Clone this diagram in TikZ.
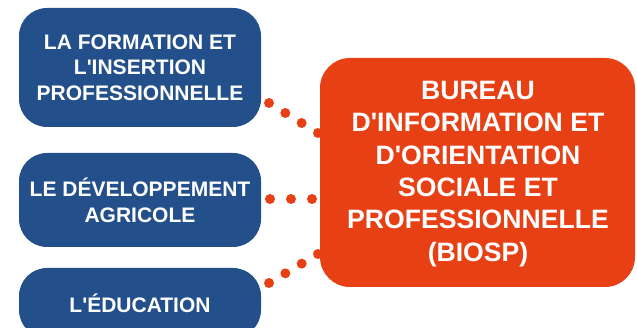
\documentclass[tikz,border=0pt]{standalone}
\usepackage{fontspec}
\setmainfont{Liberation Sans}[Ligatures=TeXOff]
\usetikzlibrary{calc}
\definecolor{boxblue}{RGB}{35,79,138}
\definecolor{boxorange}{RGB}{231,64,20}
\begin{document}
\begin{tikzpicture}[x=1pt,y=-1pt,
  bluebox/.style={fill=boxblue,rounded corners=28pt,text=white,align=center,
    font=\fontsize{21}{25.7}\selectfont\bfseries,inner sep=0pt},
  orangebox/.style={fill=boxorange,rounded corners=30pt,inner sep=0pt},
  orangetext/.style={text=white,align=center,
    font=\fontsize{26.6}{32.4}\selectfont\bfseries,inner sep=0pt},
  linkdot/.style={fill=boxorange,circle,inner sep=0pt,minimum size=10pt}]
\useasboundingbox (0,0) rectangle (637,328);
\begin{scope}
\clip (0,0) rectangle (637,328);
\node[bluebox,minimum width=242pt,minimum height=119pt] (formation) at (140,67.5)
  {LA FORMATION ET\\L'INSERTION\\PROFESSIONNELLE};
\node[bluebox,minimum width=242pt,minimum height=94pt] (agricole) at (140,200)
  {LE DÉVELOPPEMENT\\AGRICOLE};
\node[bluebox,minimum width=242pt,minimum height=70pt] (education) at (140,303)
  {L'ÉDUCATION};
\node[orangebox,minimum width=315pt,minimum height=229pt] (biosp) at (477.5,172.5) {};
\node[orangetext] (biosptext) at (478,174)
  {BUREAU\\D'INFORMATION ET\\D'ORIENTATION\\SOCIALE ET\\PROFESSIONNELLE\\(BIOSP)};
\coordinate (a1) at (269,103);
\coordinate (b1) at (318,133);
\coordinate (a2) at (270,199);
\coordinate (b2) at (312,199);
\coordinate (a3) at (269,283);
\coordinate (b3) at (318,254);
\foreach \i in {0,1,2,3} {
  \node[linkdot] (d1\i) at ($(a1)!\i/3!(b1)$) {};
  \node[linkdot] (d3\i) at ($(a3)!\i/3!(b3)$) {};
}
\foreach \i in {0,1,2} {
  \node[linkdot] (d2\i) at ($(a2)!\i/2!(b2)$) {};
}
\end{scope}
\end{tikzpicture}
\end{document}
